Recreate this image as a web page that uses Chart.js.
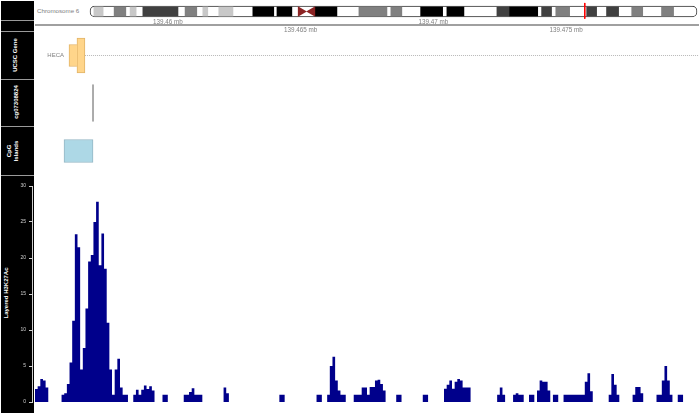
<!DOCTYPE html>
<html lang="en">
<head>
<meta charset="UTF-8">
<title>HECA region - Layered H3K27Ac</title>
<script src="https://cdn.jsdelivr.net/npm/chart.js@4.4.0/dist/chart.umd.min.js"></script>
<style>
  body { margin: 0; background: #fff; font-family: Arial, "Liberation Sans", sans-serif; }
  #page { position: relative; width: 700px; height: 414px; overflow: hidden; }
  .sep { position: absolute; left: 1px; width: 33px; top: 1px; height: 412px; background: #9a9a9a; }
  .panel { position: absolute; left: 1px; width: 33px; background: #000; }
  .title { position: absolute; color: #fff; font-weight: bold; font-size: 6px; line-height: 7px;
           white-space: nowrap; text-align: center; transform: translate(-50%, -50%) rotate(-90deg); }
  canvas { position: absolute; }
  #chrLabel { position: absolute; left: 37px; top: 7px; font-size: 6.2px; color: #808080; }
</style>
</head>
<body>
<div id="page">
  <div class="sep"></div>
  <div class="panel" style="top:1px;height:19px"></div>
  <div class="panel" style="top:21px;height:10px"></div>
  <div class="panel" style="top:32px;height:47px"></div>
  <div class="panel" style="top:80px;height:46px"></div>
  <div class="panel" style="top:127px;height:48px"></div>
  <div class="panel" style="top:176px;height:237px"></div>

  <div class="title" style="left:15px;top:55px">UCSC Gene</div>
  <div class="title" style="left:15.5px;top:102px">cg07308824</div>
  <div class="title" style="left:12.5px;top:151px">CpG<br>Islands</div>
  <div class="title" style="left:6px;top:293px">Layered H3K27Ac</div>

  <div id="chrLabel">Chromosome 6</div>

  <canvas id="ideo" width="611" height="19" style="left:88px;top:2px"></canvas>
  <canvas id="axis" width="664" height="22" style="left:35px;top:13px"></canvas>
  <canvas id="gene" width="664" height="47" style="left:35px;top:32px"></canvas>
  <canvas id="probe" width="664" height="46" style="left:35px;top:80px"></canvas>
  <canvas id="cpg" width="664" height="48" style="left:35px;top:127px"></canvas>
  <canvas id="hist" width="699" height="237" style="left:0px;top:176px"></canvas>
</div>

<script>
// ---- data ----
const START = 139455000;   // window start (bp)
const END = 139480000;     // window end (bp)

// chromosome 6 ideogram, Mb (only stained bands, rest is gneg)
const chrLength = 171.1;
const bandStart = [1.1, 6.8, 11.3, 14.9, 26.8, 31.8, 36.3, 45.9, 52.7, 58.6, 61.1, 63.4, 75.8, 84.8, 93.2, 100.6, 114.7, 118.3, 127.3, 131.3, 140.0, 145.6, 152.7, 161.1];
const bandEnd   = [3.7, 10.1, 13.0, 24.8, 30.1, 33.2, 40.3, 51.8, 56.9, 61.1, 63.4, 69.6, 83.7, 87.9, 99.4, 105.4, 118.3, 126.2, 130.1, 135.2, 142.8, 149.0, 155.8, 164.5];
const bandStain = ['gpos25', 'gpos50', 'gpos25', 'gpos75', 'gpos50', 'gpos25', 'gpos25', 'gpos100', 'gpos100', 'acen', 'acen', 'gpos100', 'gpos50', 'gpos50', 'gpos100', 'gpos100', 'gpos75', 'gpos100', 'gpos75', 'gpos50', 'gpos75', 'gpos75', 'gpos50', 'gpos50'];

// genome axis
const axisTicks = [139460000, 139465000, 139470000, 139475000];
const axisLabels = ['139.46 mb', '139.465 mb', '139.47 mb', '139.475 mb'];

// UCSC gene
const geneName = 'HECA';
const geneUtr = [139456280, 139456580];
const geneCds = [139456580, 139456880];
const geneEnd = 139497000;

// methylation probe cg07308824
const probePos = [139457184];

// CpG island
const cpgIsland = [139456092, 139457184];

// Layered H3K27Ac, 100 bp bins from START
const binSize = 100;
const h3k27ac = [
  1.8, 2.2, 3.2, 3.0, 2.0, 0, 0, 0, 0, 0,
  1, 1.2, 2.5, 5.5, 11.3, 23.3, 21.5, 4.5, 7.5, 13,
  19.5, 20.4, 25, 27.8, 19, 23.4, 18.5, 11, 4.5, 1,
  4.5, 6, 2, 1, 1, 0, 0, 1, 1.7, 1,
  1.7, 2.3, 1.8, 2.2, 1.6, 0, 0, 0, 1, 1,
  0, 0, 0, 0, 0, 0, 1, 1, 1.4, 1.9,
  1, 1, 1, 0, 0, 0, 0, 0, 0, 0,
  0, 2, 1.2, 0, 0, 0, 0, 0, 0, 0,
  0, 0, 0, 0, 0, 0, 0, 0, 0, 0,
  0, 0, 1, 1, 0, 0, 0, 0, 0, 0,
  0, 0, 0, 0, 0, 0, 1, 1, 0, 0,
  1, 5, 6.3, 3, 1.6, 1, 1, 0, 0, 0,
  1, 1, 1, 2, 2, 1, 2.1, 2.1, 3, 3.1,
  2.5, 1.6, 0, 0, 0, 0, 1, 1, 0, 0,
  0, 0, 0, 0, 0, 0, 1, 1, 0, 0,
  0, 0, 0, 0, 1.85, 2.4, 3, 1.85, 2.8, 3.2,
  3, 2, 2, 2, 0, 0, 0, 0, 0, 0,
  0, 0, 0, 0, 1, 2, 1, 0, 0, 0,
  1, 1.2, 1, 1, 0, 0, 1, 1, 0, 1.6,
  3, 2.8, 2.8, 1.6, 0, 1, 1, 0, 0, 1,
  1, 1, 1, 1, 1, 1, 1, 2.8, 4, 1.5,
  0, 0, 0, 0, 0, 0, 1, 3.9, 2.4, 1,
  0, 0, 0, 0, 0, 1, 2.1, 2.1, 1.2, 0,
  0, 0, 0, 0, 1, 1, 3, 5, 3, 1,
  0, 0, 1, 1, 0, 0, 0, 0, 0, 0
];
const yTicks = [0, 5, 10, 15, 20, 25, 30];

// ---- layout helpers ----
const PX_START = 35, PX_END = 699;            // pixel of START / END
const bpPerPx = (END - START) / (PX_END - PX_START);
const xRange = (left, width) => ({
  min: START + (left - PX_START) * bpPerPx,
  max: START + (left + width - PX_START) * bpPerPx
});
const stainColor = { gpos25: '#c8c8c8', gpos50: '#808080', gpos75: '#404040', gpos100: '#000000' };
const baseOpts = {
  responsive: false,
  animation: false,
  events: [],
  layout: { autoPadding: false, padding: 0 },
  plugins: { legend: { display: false }, tooltip: { enabled: false } }
};
// hidden linear scales with no bar offset
const flatX = (range) => ({ type: 'linear', display: false, offset: false, ...range });
const flatY = { type: 'linear', display: false, offset: false, min: 0, max: 1 };

// ---- ideogram ----
const mbPerPx = chrLength / 607;
const acen = bandStart.map((s, i) => [s, bandEnd[i]]).filter((b, i) => bandStain[i] === 'acen');
new Chart(document.getElementById('ideo'), {
  type: 'bar',
  data: {
    datasets: [
      {
        type: 'scatter',
        data: [
          { x: acen[0][0] + (acen[0][1] - acen[0][0]) / 3, y: 0.5 },
          { x: acen[1][1] - (acen[1][1] - acen[1][0]) / 3, y: 0.5 }
        ],
        pointStyle: 'triangle',
        pointRotation: [90, -90],
        pointRadius: 6,
        pointBackgroundColor: '#8b2323',
        pointBorderWidth: 0,
        order: 0
      },
      {
        type: 'line',
        data: [{ x: (START + END) / 2e6, y: 0.95 }, { x: (START + END) / 2e6, y: 0.12 }],
        borderColor: '#ff0000',
        borderWidth: 1,
        pointRadius: 0,
        order: 0
      },
      {
        indexAxis: 'y',
        grouped: false,
        data: bandStart.map((s, i) => ({ x: [s, bandEnd[i]], y: 0.5 })).filter((d, i) => bandStain[i] !== 'acen'),
        backgroundColor: bandStain.filter(s => s !== 'acen').map(s => stainColor[s]),
        borderWidth: 0,
        barThickness: 9,
        order: 1
      },
      {
        indexAxis: 'y',
        grouped: false,
        data: [{ x: [0, chrLength], y: 0.5 }],
        backgroundColor: '#ffffff',
        borderColor: '#333333',
        borderWidth: 1,
        borderSkipped: false,
        borderRadius: 5,
        barThickness: 11,
        order: 2
      }
    ]
  },
  options: {
    ...baseOpts,
    scales: {
      x: flatX({ min: -2 * mbPerPx, max: chrLength + 2 * mbPerPx }),
      y: flatY
    }
  }
});

// ---- genome axis ----
const axisTickFont = { family: 'Arial', size: 6.3, lineHeight: 1 };
new Chart(document.getElementById('axis'), {
  type: 'line',
  data: {
    datasets: [{
      data: [{ x: START, y: 0 }, { x: END, y: 0 }],
      xAxisID: 'xBot',
      borderColor: '#a0a0a0',
      borderWidth: 2,
      pointRadius: 0
    }]
  },
  options: {
    ...baseOpts,
    scales: {
      xTop: {
        type: 'linear', position: 'top', offset: false, ...xRange(35, 664),
        afterBuildTicks: s => { s.ticks = axisTicks.filter((t, i) => i % 2 === 0).map(v => ({ value: v })); },
        afterFit: s => { s.height = 11; },
        ticks: { autoSkip: false, maxRotation: 0, padding: -1, color: '#808080', font: axisTickFont,
                 callback: v => axisLabels[axisTicks.indexOf(v)] },
        grid: { display: false, drawTicks: false },
        border: { display: false }
      },
      xBot: {
        type: 'linear', position: 'bottom', offset: false, ...xRange(35, 664),
        afterBuildTicks: s => { s.ticks = axisTicks.filter((t, i) => i % 2 === 1).map(v => ({ value: v })); },
        afterFit: s => { s.height = 9; },
        ticks: { autoSkip: false, maxRotation: 0, padding: 1, color: '#808080', font: axisTickFont,
                 callback: v => axisLabels[axisTicks.indexOf(v)] },
        grid: { display: false, drawTicks: false },
        border: { display: false }
      },
      y: { display: false, min: -1, max: 1 }
    }
  }
});

// ---- gene track ----
const geneLabelPlugin = {
  id: 'geneLabel',
  afterDatasetsDraw(chart) {
    const ctx = chart.ctx;
    const x = chart.scales.x.getPixelForValue(geneUtr[0]);
    const y = chart.scales.y.getPixelForValue(0.5);
    ctx.save();
    ctx.font = '6px Arial';
    ctx.fillStyle = '#808080';
    ctx.textAlign = 'right';
    ctx.textBaseline = 'middle';
    ctx.fillText(geneName, x - 5, y);
    ctx.restore();
  }
};
new Chart(document.getElementById('gene'), {
  type: 'bar',
  data: {
    datasets: [
      {
        type: 'line',
        data: [{ x: geneCds[1], y: 0.5 }, { x: geneEnd, y: 0.5 }],
        borderColor: '#b8b8b8',
        borderWidth: 1,
        borderDash: [1, 1],
        pointRadius: 0,
        order: 2
      },
      {
        indexAxis: 'y', grouped: false,
        data: [{ x: geneUtr, y: 0.5 }],
        backgroundColor: '#ffd58a', borderColor: '#e2b468', borderWidth: 1,
        borderSkipped: 'right', barThickness: 22, order: 0
      },
      {
        indexAxis: 'y', grouped: false,
        data: [{ x: geneCds, y: 0.5 }],
        backgroundColor: '#ffd58a', borderColor: '#e2b468', borderWidth: 1,
        borderSkipped: false, barThickness: 35, order: 1
      }
    ]
  },
  options: {
    ...baseOpts,
    scales: { x: flatX(xRange(35, 664)), y: flatY }
  },
  plugins: [geneLabelPlugin]
});

// ---- probe track ----
new Chart(document.getElementById('probe'), {
  type: 'line',
  data: {
    datasets: probePos.map(p => ({
      data: [{ x: p, y: 0.9 }, { x: p, y: 0.1 }],
      borderColor: '#a0a0a0',
      borderWidth: 1,
      pointRadius: 0
    }))
  },
  options: {
    ...baseOpts,
    scales: { x: flatX(xRange(35, 664)), y: flatY }
  }
});

// ---- CpG islands ----
new Chart(document.getElementById('cpg'), {
  type: 'bar',
  data: {
    datasets: [{
      data: [{ x: cpgIsland, y: 0.5 }],
      backgroundColor: '#add8e6',
      borderColor: '#95b7c4',
      borderWidth: 1,
      borderSkipped: false,
      barThickness: 23
    }]
  },
  options: {
    ...baseOpts,
    indexAxis: 'y',
    scales: { x: flatX(xRange(35, 664)), y: flatY }
  }
});

// ---- Layered H3K27Ac histogram ----
// stepped 'before': each bin value is held from its start to the next bin start
new Chart(document.getElementById('hist'), {
  type: 'line',
  data: {
    datasets: [{
      data: h3k27ac.map((v, i) => ({ x: START + i * binSize, y: v })),
      stepped: 'before',
      fill: 'origin',
      backgroundColor: '#00008b',
      borderColor: 'rgba(0,0,0,0)',
      borderWidth: 0,
      pointRadius: 0
    }]
  },
  options: {
    ...baseOpts,
    layout: { autoPadding: false, padding: { top: 10, bottom: 11, left: 0, right: 0 } },
    scales: {
      x: flatX(xRange(32, 667)),
      y: {
        type: 'linear', min: 0, max: 30,
        afterBuildTicks: s => { s.ticks = yTicks.map(v => ({ value: v })); },
        afterFit: s => { s.width = 32; },
        ticks: { color: '#d0d0d0', font: { family: 'Arial', size: 5 }, padding: 3 },
        grid: { drawOnChartArea: false, tickLength: 3, color: '#d0d0d0' },
        border: { color: '#d0d0d0' }
      }
    }
  }
});
</script>
</body>
</html>
